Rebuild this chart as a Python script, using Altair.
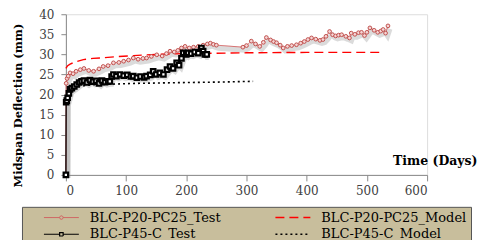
import altair as alt
import pandas as pd

# ---- data ----
red_test_x = [0, 0.5, 2, 4, 7, 12, 17, 24, 30, 38, 46, 55, 62, 70, 79, 88, 96, 104, 112, 120, 128, 134,
              142, 151, 160, 167, 173, 180, 186, 192, 198, 205, 212, 220, 228, 235, 240, 245, 250,
              294, 300, 308, 315, 322, 328, 333, 340, 345, 350, 356, 361, 368, 375, 383, 390, 396, 402,
              408, 415, 422, 427, 432, 438, 443, 448, 453, 458, 465, 471, 474, 480, 486, 491, 496, 500,
              505, 512, 518, 523, 527, 531, 535]
red_test_y = [0, 22.8, 24.0, 24.6, 25.4, 25.2, 25.8, 26.2, 26.5, 26.0, 25.8, 26.4, 27.0, 27.2, 27.9, 28.0,
              28.3, 28.6, 29.1, 28.8, 29.0, 29.1, 29.5, 29.9, 29.6, 30.2, 30.8, 30.6, 31.0, 31.6, 32.0,
              31.6, 31.8, 32.0, 32.3, 32.6, 32.8, 32.5, 32.3,
              31.8, 32.2, 33.3, 32.6, 32.0, 33.0, 34.2, 33.6, 33.2, 32.9, 32.3, 31.6, 32.0, 32.2, 32.4,
              32.8, 33.2, 33.7, 34.1, 33.8, 33.5, 33.7, 34.5, 35.7, 34.9, 34.6, 34.8, 34.9, 34.5, 34.1,
              35.3, 35.0, 35.4, 35.5, 34.7, 35.5, 36.6, 36.0, 35.5, 35.8, 36.2, 35.3, 37.1]

black_test_x = [0, 0.5, 1.5, 3, 5, 7, 10, 14, 18, 22, 26, 30, 35, 40, 45, 50, 55, 60, 65, 70, 73, 76, 79,
                84, 90, 96, 102, 108, 112, 118, 124, 130, 134, 140, 145, 150, 156, 162, 168, 173, 178,
                184, 188, 192, 195, 200, 203, 208, 214, 220, 225, 228, 231, 234]
black_test_y = [0, 18.1, 18.5, 19.2, 20.3, 21.3, 21.6, 22.0, 22.5, 23.0, 23.3, 23.5, 23.0, 23.6, 23.2,
                23.4, 22.8, 23.5, 23.1, 23.3, 23.3, 24.5, 25.0, 24.6, 25.0, 24.7, 24.9, 24.5, 24.6, 24.2,
                24.5, 24.3, 24.6, 24.9, 25.8, 25.0, 25.4, 25.0, 26.2, 27.0, 26.5, 27.9, 27.3, 29.0, 30.4,
                30.0, 30.4, 30.2, 30.6, 30.3, 31.6, 30.8, 30.0, 30.0]

red_model_x = [0, 3, 7, 15, 29, 45, 57, 80, 112, 150, 195, 250, 300, 400, 527]
red_model_y = [26.5, 27.2, 27.6, 28.1, 28.7, 29.0, 29.1, 29.4, 29.7, 30.0, 30.2, 30.3, 30.4, 30.5, 30.5]

black_model_x = [0, 5, 10, 20, 40, 76, 120, 200, 250, 311]
black_model_y = [18.5, 20.5, 21.3, 22.0, 22.4, 22.6, 22.8, 23.0, 23.1, 23.3]

# legend is filled column by column: this order puts tests in row 1 / row 2 of column 1
series_names = ["BLC-P20-PC25_Test", "BLC-P45-C_Test", "BLC-P20-PC25_Model", "BLC-P45-C_Model"]
series_colors = ["#D06060", "#000000", "#FF0000", "#000000"]
series_dash = [[1, 0], [1, 0], [9, 5], [2, 3]]
series_width = [1, 1.6, 3, 2]
x_ticks = [0, 100, 200, 300, 400, 500, 600]
y_ticks = [0, 5, 10, 15, 20, 25, 30, 35, 40]

# ---- table ----
frames = []
for name, xs, ys in [("BLC-P20-PC25_Test", red_test_x, red_test_y),
                     ("BLC-P20-PC25_Model", red_model_x, red_model_y),
                     ("BLC-P45-C_Test", black_test_x, black_test_y),
                     ("BLC-P45-C_Model", black_model_x, black_model_y)]:
    frames.append(pd.DataFrame({"series": name, "t": xs, "d": ys, "order": range(len(xs))}))
df = pd.concat(frames, ignore_index=True)

SERIF = "DejaVu Serif"
x_enc = alt.X("t:Q", scale=alt.Scale(domain=[0, 600], nice=False),
              axis=alt.Axis(values=x_ticks, title="Time (Days)", grid=False,
                            titleX=412, titleY=-14, titleAlign="right", titleBaseline="middle",
                            titleFont=SERIF, titleFontSize=12.5, titleFontWeight="bold",
                            titleColor="black",
                            labelFont=SERIF, labelFontSize=12, labelColor="#404040",
                            labelPadding=5,
                            domainColor="#8a8a8a", tickColor="#8a8a8a", tickSize=6))
y_enc = alt.Y("d:Q", scale=alt.Scale(domain=[0, 40], nice=False),
              axis=alt.Axis(values=y_ticks, title="Midspan Deflection (mm)", grid=False,
                            titleX=-47, titleY=91, titleAngle=270, titleAlign="center",
                            titleBaseline="middle",
                            titleFont=SERIF, titleFontSize=11.5, titleFontWeight="bold",
                            titleColor="black",
                            labelFont=SERIF, labelFontSize=12, labelColor="#404040",
                            labelPadding=7,
                            domainColor="#8a8a8a", tickColor="#8a8a8a", tickSize=5))

base = alt.Chart(df)
tests = base.transform_filter(
    alt.FieldOneOfPredicate(field="series", oneOf=["BLC-P20-PC25_Test", "BLC-P45-C_Test"]))

shadow = tests.mark_line(color="#888888", strokeWidth=5, opacity=0.3, xOffset=2, yOffset=3).encode(
    x=x_enc, y=y_enc, detail="series:N", order="order:Q")

shape_sig = ("datum.value === 'BLC-P20-PC25_Test' ? "
             "'M2.3,0H5.45M6.15,0H9.3M6.15,0A0.35,0.35 0 1,1 5.45,0A0.35,0.35 0 1,1 6.15,0' : "
             "datum.value === 'BLC-P45-C_Test' ? "
             "'M2.3,0H5.45M6.15,0H9.3M5.45,-0.35H6.15V0.35H5.45Z' : 'M2.3,0H9.3'")
width_sig = ("datum.value === 'BLC-P20-PC25_Test' ? 1 : datum.value === 'BLC-P20-PC25_Model' ? 2.5 : "
             "datum.value === 'BLC-P45-C_Test' ? 1.5 : 2")
dash_sig = ("datum.value === 'BLC-P20-PC25_Model' ? [6,3] : datum.value === 'BLC-P45-C_Model' ? [2,2] : [1,0]")

legend = alt.Legend(title=None, orient="none", legendX=-44, legendY=193, columns=2,
                    fillColor="#C8BE9C", strokeColor="#555555", padding=4,
                    labelFont=SERIF, labelFontSize=13, labelColor="black", labelOffset=51,
                    columnPadding=36, rowPadding=3, symbolSize=100, labelLimit=300,
                    symbolType={"expr": shape_sig},
                    symbolStrokeWidth={"expr": width_sig},
                    symbolDash={"expr": dash_sig},
                    symbolFillColor="transparent")

lines = base.mark_line().encode(
    x=x_enc, y=y_enc, order="order:Q",
    color=alt.Color("series:N", scale=alt.Scale(domain=series_names, range=series_colors),
                    legend=legend),
    strokeDash=alt.StrokeDash("series:N", scale=alt.Scale(domain=series_names, range=series_dash),
                              legend=None),
    strokeWidth=alt.StrokeWidth("series:N", scale=alt.Scale(domain=series_names, range=series_width),
                                legend=None),
)

red_pts = base.transform_filter(alt.datum.series == "BLC-P20-PC25_Test").mark_point(
    shape="circle", size=14, filled=True, fill="#F5D5D5", stroke="#C0504D", strokeWidth=1, opacity=1
).encode(x=x_enc, y=y_enc)

black_pts = base.transform_filter(alt.datum.series == "BLC-P45-C_Test").mark_point(
    shape="square", size=20, filled=True, fill="white", stroke="black", strokeWidth=2.2, opacity=1
).encode(x=x_enc, y=y_enc)

chart = alt.layer(shadow, lines, red_pts, black_pts).properties(
    width=362, height=161,
    autosize=alt.AutoSizeParams(type="none"),
    padding={"left": 58, "top": 6, "right": 50, "bottom": 75},
).configure_view(stroke=None).configure(background="white")

chart.save("out.html", embed_options={"renderer": "svg", "actions": False})
